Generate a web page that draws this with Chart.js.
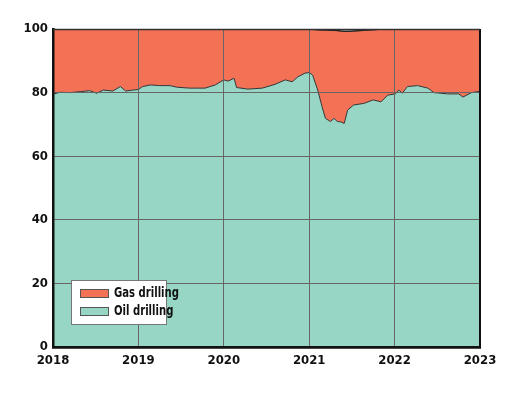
<!DOCTYPE html>
<html>
<head>
<meta charset="utf-8">
<script src="https://cdn.jsdelivr.net/npm/chart.js@4"></script>
<style>
  body { margin: 0; background: #fff; }
  #wrap { position: relative; width: 525px; height: 394px; }
  #legend {
    position: absolute; left: 71px; top: 280px; width: 94px; height: 43px;
    background: #fff; border: 1px solid #777;
    font: bold 14px "Liberation Sans Narrow", "DejaVu Sans Condensed", sans-serif; color: #111;
  }
  .item { position: absolute; left: 8px; height: 16px; white-space: nowrap; }
  .sw { position: absolute; left: 0; top: 4px; width: 27px; height: 7px; border: 1px solid #555; }
  .lbl { position: absolute; left: 34px; top: -1px; transform: scaleX(0.8); transform-origin: left; }
</style>
</head>
<body>
<div id="wrap">
  <canvas id="chart" width="525" height="394"></canvas>
  <div id="legend">
    <div class="item" style="top:4px"><span class="sw" style="background:#f37155"></span><span class="lbl">Gas drilling</span></div>
    <div class="item" style="top:22px"><span class="sw" style="background:#97d5c4"></span><span class="lbl">Oil drilling</span></div>
  </div>
</div>
<script>
// Share of rigs, % (decimal years on x)
const dates = [
  2018.00, 2018.08, 2018.20, 2018.32, 2018.43, 2018.51, 2018.59, 2018.70, 2018.79, 2018.85, 2018.94,
  2019.00, 2019.05, 2019.14, 2019.25, 2019.37, 2019.45, 2019.60, 2019.72, 2019.78, 2019.90,
  2020.00, 2020.05, 2020.12, 2020.15, 2020.28, 2020.45, 2020.60, 2020.72, 2020.80, 2020.87, 2020.95,
  2021.00, 2021.04, 2021.10, 2021.15, 2021.19, 2021.25, 2021.29, 2021.33, 2021.37, 2021.41, 2021.45, 2021.52, 2021.64, 2021.75, 2021.84, 2021.92,
  2022.01, 2022.05, 2022.09, 2022.15, 2022.27, 2022.39, 2022.46, 2022.62, 2022.75, 2022.80, 2022.90,
  2023.00
];
const oil = [
  79.5, 80.1, 80.0, 80.3, 80.6, 79.8, 80.8, 80.5, 81.9, 80.5, 80.8,
  81.0, 81.9, 82.4, 82.2, 82.2, 81.7, 81.4, 81.4, 81.4, 82.4,
  84.0, 83.6, 84.5, 81.6, 81.1, 81.4, 82.6, 84.0, 83.4, 85.0, 86.1,
  86.3, 85.5, 80.8, 75.6, 71.9, 70.9, 71.9, 70.9, 70.8, 70.3, 74.5, 76.1, 76.6, 77.7, 77.1, 79.2,
  79.6, 80.8, 79.8, 81.9, 82.2, 81.4, 80.0, 79.6, 79.6, 78.6, 80.0,
  80.4
];
// top edge of the gas band (oil + gas)
const gasTop = [
  100, 100, 100, 100, 100, 100, 100, 100, 100, 100, 100,
  100, 100, 100, 100, 100, 100, 100, 100, 100, 100,
  100, 100, 100, 100, 100, 100, 100, 100, 100, 100, 100,
  100, 99.9, 99.8, 99.7, 99.7, 99.6, 99.6, 99.5, 99.4, 99.3, 99.3, 99.4, 99.6, 99.8, 100, 100,
  100, 100, 100, 100, 100, 100, 100, 100, 100, 100, 100,
  100
];
const yearTicks = [2018, 2019, 2020, 2021, 2022, 2023];

const tickFont = { family: '"Liberation Sans Narrow", "DejaVu Sans Condensed", sans-serif', size: 13, weight: 'bold' };

// grid lines sit over the filled areas in the original
const gridOnTop = {
  id: 'gridOnTop',
  afterDatasetsDraw(chart) {
    const a = chart.chartArea, ctx = chart.ctx;
    chart.scales.x.drawGrid(a);
    chart.scales.y.drawGrid(a);
    chart.scales.x.drawBorder();
    chart.scales.y.drawBorder();
    ctx.save();
    ctx.strokeStyle = '#111';
    ctx.lineWidth = 2;
    ctx.beginPath();
    ctx.moveTo(a.right, a.top);
    ctx.lineTo(a.right, a.bottom + 1);
    ctx.stroke();
    // thin dark rim along the top
    ctx.strokeStyle = '#333';
    ctx.lineWidth = 1.5;
    ctx.beginPath();
    ctx.moveTo(a.left, a.top + 0.5);
    ctx.lineTo(a.right, a.top + 0.5);
    ctx.stroke();
    ctx.restore();
  }
};

new Chart(document.getElementById('chart'), {
  type: 'line',
  data: {
    datasets: [{
      label: 'Oil drilling',
      data: dates.map((d, i) => ({ x: d, y: oil[i] })),
      borderColor: '#333',
      borderWidth: 1,
      backgroundColor: '#97d5c4',
      fill: 'origin',
      pointRadius: 0
    }, {
      label: 'Gas drilling',
      data: dates.map((d, i) => ({ x: d, y: gasTop[i] })),
      borderColor: '#222',
      borderWidth: 1.5,
      backgroundColor: '#f37155',
      fill: '-1',
      pointRadius: 0
    }]
  },
  options: {
    responsive: false,
    animation: false,
    layout: { padding: { top: 29, right: 45, left: 0, bottom: 22 } },
    plugins: { legend: { display: false }, tooltip: { enabled: false } },
    scales: {
      x: {
        type: 'linear', min: 2018, max: 2023,
        afterBuildTicks: s => { s.ticks = yearTicks.map(v => ({ value: v })); },
        afterFit: s => { s.height = 25; },
        ticks: { font: tickFont, color: '#111', padding: 6, maxRotation: 0, callback: v => String(v) },
        grid: { color: '#666', lineWidth: 1, drawTicks: false },
        border: { color: '#111', width: 2.5 }
      },
      y: {
        min: 0, max: 100,
        afterFit: s => { s.width = 53; },
        ticks: { stepSize: 20, font: tickFont, color: '#111', padding: 5 },
        grid: { color: '#666', lineWidth: 1, drawTicks: false },
        border: { color: '#111', width: 2.5 }
      }
    }
  },
  plugins: [gridOnTop]
});
</script>
</body>
</html>
